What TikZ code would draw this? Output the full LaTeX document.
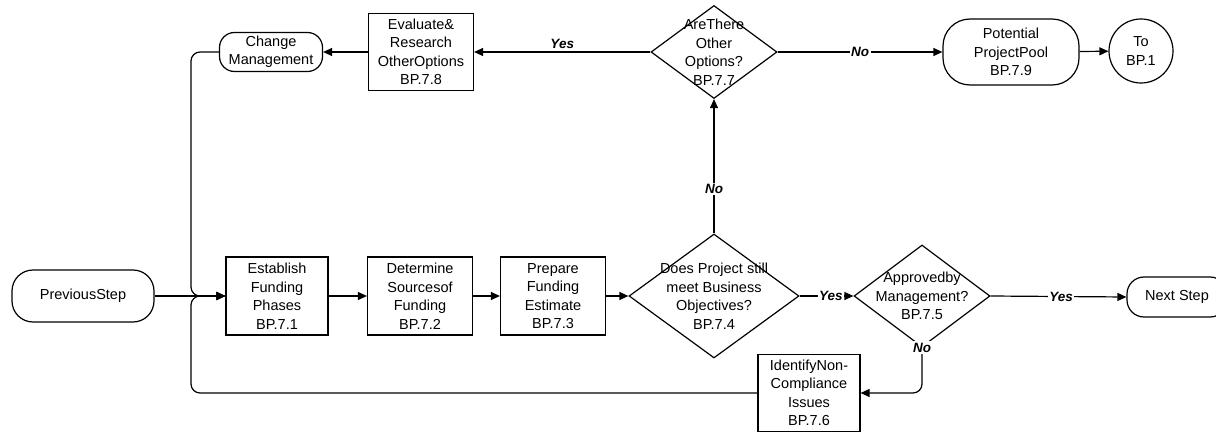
\documentclass[tikz,border=0pt]{standalone}
\usepackage{fontspec}
\setmainfont{Liberation Sans}
\usetikzlibrary{shapes.geometric,arrows.meta}

\begin{document}
\begin{tikzpicture}[x=1pt,y=-1pt, line width=1.2pt,
  font=\fontsize{14.5}{18.5}\selectfont,
  box/.style={draw, rectangle, align=center, inner sep=0pt},
  capsule/.style={draw, rectangle, rounded corners=#1, align=center, inner sep=0pt},
  decision/.style={draw, diamond, inner sep=0pt},
  dtext/.style={align=center, inner sep=0pt},
  lbl/.style={font=\fontsize{13.5}{16}\selectfont\bfseries\itshape, inner sep=1.5pt},
  arr/.style={-{Triangle[length=9pt,width=8pt]}},
  elbow/.style={rounded corners=9pt}]

\clip (0,0) rectangle (1216,433);

% main row
\node[capsule=21pt, minimum width=142pt, minimum height=52pt] (prev) at (83,296) {PreviousStep};
\node[box, minimum width=102pt, minimum height=78pt] (b1) at (277,296) {Establish\\Funding\\Phases\\BP.7.1};
\node[box, minimum width=105pt, minimum height=78pt] (b2) at (420,296) {Determine\\Sourcesof\\Funding\\BP.7.2};
\node[box, minimum width=105pt, minimum height=78pt] (b3) at (553,296) {Prepare\\Funding\\Estimate\\BP.7.3};
\node[decision, minimum width=170pt, minimum height=124pt] (d4) at (714,296) {};
\node[dtext] (d4t) at (d4) {Does Project still\\meet Business\\Objectives?\\BP.7.4};
\node[decision, minimum width=136pt, minimum height=102pt] (d5) at (922,296) {};
\node[dtext] (d5t) at (d5) {Approvedby\\Management?\\BP.7.5};
\node[capsule=17pt, minimum width=100pt, minimum height=40pt] (next) at (1177,297) {Next Step};
\node[box, minimum width=102pt, minimum height=77pt] (b6) at (809,393) {IdentifyNon-\\Compliance\\Issues\\BP.7.6};

% top row
\node[capsule=15pt, minimum width=103pt, minimum height=39pt] (cm) at (271,52) {Change\\Management};
\node[box, minimum width=105pt, minimum height=77pt] (b8) at (421,52) {Evaluate\&\\Research\\OtherOptions\\BP.7.8};
\node[decision, minimum width=126pt, minimum height=93pt] (d7) at (714,52) {};
\node[dtext] (d7t) at (d7) {AreThere\\Other\\Options?\\BP.7.7};
\node[capsule=27pt, minimum width=136pt, minimum height=66pt] (pool) at (1011,52) {Potential\\ProjectPool\\BP.7.9};
\node[draw, circle, minimum size=64pt, inner sep=0pt, align=center] (to) at (1141,51) {To\\BP.1};

% connectors
\draw[arr] (prev) -- (b1);
\draw[arr, elbow] (cm.west) -- (191,52) -- (191,296) -- (b1.west);
\draw[arr, elbow] (b6.west) -- (191,393) -- (191,296) -- (b1.west);
\draw[arr] (b1) -- (b2);
\draw[arr] (b2) -- (b3);
\draw[arr] (b3) -- (d4);
\draw[arr] (d4.east) -- (d5.west) node[pos=0.58, lbl, fill=white] (y45) {Yes};
\draw[arr] (d5.east) -- (next.west) node[pos=0.52, lbl, fill=white] (y5n) {Yes};
\draw[arr, elbow] (d5.south) -- (d5.south |- b6.east) -- (b6.east);
\node[lbl, fill=white] (n56) at (d5.south) {No};
\draw[arr] (d4.north) -- (d7.south) node[pos=0.33, lbl, fill=white] (n47) {No};
\draw[arr] (d7.west) -- (b8.east) node[midway, lbl, above=1pt] (y78) {Yes};
\draw[arr] (d7.east) -- (pool.west) node[pos=0.5, lbl, fill=white] (n79) {No};
\draw[arr] (pool) -- (to);
\draw[arr] (b8) -- (cm);
\end{tikzpicture}
\end{document}
